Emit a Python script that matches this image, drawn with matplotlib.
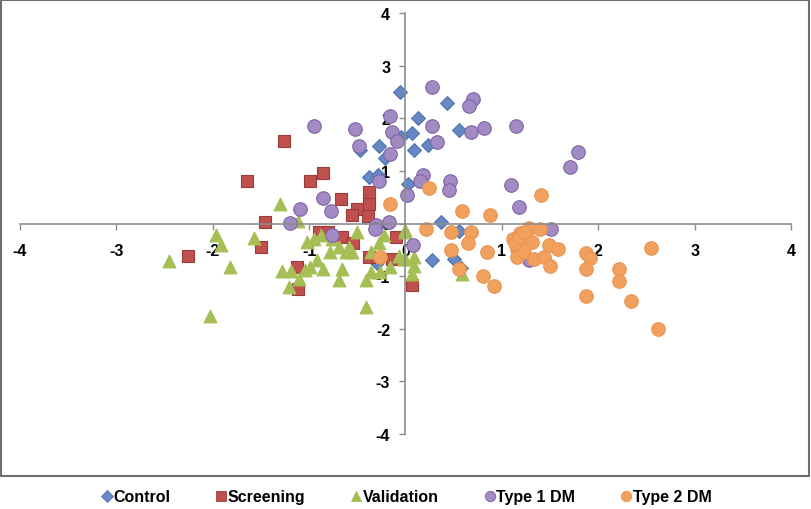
import matplotlib
matplotlib.use('Agg')
from matplotlib import pyplot as plt
from matplotlib.patches import Rectangle
from matplotlib.lines import Line2D

plt.rcParams['font.family'] = ['Liberation Sans', 'DejaVu Sans']
plt.rcParams['axes.unicode_minus'] = False

control_x = [-0.06, 0.43, 0.13, 0.07, -0.05, -0.28, -0.47, -0.21, -0.38, -0.29,
             0.03, 0.09, 0.23, 0.56, 0.37, 0.56, 0.27, 0.50, 0.58, -0.30]
control_y = [2.49, 2.29, 2.0, 1.72, 1.64, 1.48, 1.40, 1.24, 0.89, 0.92,
             0.75, 1.40, 1.49, 1.77, 0.02, -0.14, -0.70, -0.67, -0.85, -0.76]

screening_x = [-1.26, -1.64, -0.99, -0.86, -0.67, -0.38, -0.38, -0.50, -0.55, -0.39,
               -1.46, -2.26, -1.50, -1.13, -1.12, -0.90, -0.80, -0.66, -0.54, -0.38,
               -0.14, -0.10, 0.07]
screening_y = [1.57, 0.80, 0.81, 0.96, 0.46, 0.59, 0.38, 0.27, 0.16, 0.15,
               0.03, -0.61, -0.45, -0.83, -1.24, -0.16, -0.16, -0.25, -0.38, -0.64,
               -0.67, -0.25, -1.16]

validation_x = [-2.45, -1.97, -1.91, -1.82, -2.03, -1.57, -1.28, -1.21, -1.19, -1.11,
                -1.04, -0.99, -1.02, -0.95, -0.88, -0.92, -0.86, -0.78, -0.76, -0.69,
                -0.66, -0.69, -0.62, -0.59, -0.55, -0.50, -0.41, -0.41, -0.36, -0.36,
                -0.28, -0.26, -0.22, -0.16, -0.07, 0.0, -0.02, -1.30, -1.12, 0.0,
                0.0, 0.09, 0.09, 0.07, 0.59]
validation_y = [-0.72, -0.22, -0.41, -0.83, -1.76, -0.27, -0.91, -1.21, -0.91, -1.05,
                -0.89, -0.83, -0.35, -0.29, -0.22, -0.70, -0.86, -0.54, -0.29, -0.45,
                -0.86, -1.08, -0.54, -0.45, -0.54, -0.16, -1.59, -1.08, -0.54, -0.92,
                -0.38, -0.92, -0.22, -0.83, -0.61, -0.16, -0.67, 0.37, 0.05, -0.13,
                -0.67, -0.64, -0.80, -0.96, -0.96]

type1_x = [-0.95, -0.52, -0.48, -0.16, -0.14, -0.09, -0.16, -0.27, 0.02, -0.86,
           -1.09, -0.77, -1.20, -0.17, -0.31, -0.76, -0.32, 0.28, 0.70, 0.66,
           0.28, 0.33, 0.68, 0.81, 1.15, 1.79, 1.71, 0.18, 0.15, 0.46,
           0.45, 1.09, 1.18, 1.51, 1.28, 0.08]
type1_y = [1.86, 1.80, 1.47, 2.04, 1.73, 1.57, 1.32, 0.81, 0.54, 0.48,
           0.27, 0.24, 0.01, 0.03, -0.03, -0.22, -0.10, 2.60, 2.36, 2.23,
           1.85, 1.55, 1.73, 1.82, 1.85, 1.35, 1.07, 0.92, 0.81, 0.81,
           0.63, 0.73, 0.31, -0.10, -0.70, -0.40]

type2_x = [0.24, 1.41, 0.59, 0.88, -0.16, 0.21, 0.47, 0.68, 0.65, 0.47,
           0.85, 0.55, 0.80, 0.92, 1.12, 1.19, 1.28, 1.24, 1.31, 1.16,
           1.16, 1.23, 1.14, 1.18, 1.23, 1.40, 1.33, 1.44, 1.50, 1.49,
           1.58, 1.87, 1.91, 1.87, 2.22, 2.22, 1.87, 2.34, 2.55, 2.62,
           -0.26]
type2_y = [0.67, 0.54, 0.24, 0.16, 0.37, -0.11, -0.16, -0.16, -0.38, -0.51,
           -0.55, -0.87, -0.99, -1.18, -0.29, -0.19, -0.08, -0.35, -0.36, -0.48,
           -0.64, -0.54, -0.38, -0.25, -0.16, -0.11, -0.67, -0.64, -0.81, -0.40,
           -0.48, -0.57, -0.66, -0.87, -0.86, -1.10, -1.38, -1.47, -0.46, -2.01,
           -0.64]

labels = ['Control', 'Screening', 'Validation', 'Type 1 DM', 'Type 2 DM']
markers = ['D', 's', '^', 'o', 'o']
fills = ['#6688C4', '#C0504D', '#A6BF55', '#A28BC4', '#F2A05E']
edges = ['#4F73B0', '#9C3C3A', '#A6BF55', '#7E64A3', '#E99452']
sizes = [50, 75, 85, 95, 95]

fig = plt.figure(figsize=(8.12, 5.10), dpi=100)
ax = fig.add_axes([20 / 812, 75 / 510, 771 / 812, 421 / 510])

series = [(control_x, control_y), (screening_x, screening_y), (validation_x, validation_y),
          (type1_x, type1_y), (type2_x, type2_y)]
for (xs, ys), lab, m, fc, ec, s in zip(series, labels, markers, fills, edges, sizes):
    ax.scatter(xs, ys, marker=m, s=s, c=fc, edgecolors=ec, linewidths=0.8,
               label=lab, zorder=2)

ax.set_xlim(-4, 4)
ax.set_ylim(-4, 4)
ax.set_xticks(range(-4, 5))
ax.set_yticks(range(-4, 5))

for side in ['top', 'right']:
    ax.spines[side].set_visible(False)
ax.spines['left'].set_position(('data', 0))
ax.spines['bottom'].set_position(('data', 0))
for side in ['left', 'bottom']:
    ax.spines[side].set_color('#8C8C8C')
    ax.spines[side].set_linewidth(1.2)
ax.tick_params(axis='both', direction='out', length=4, width=1, color='#8C8C8C',
               labelsize=11.5)
ax.tick_params(axis='x', pad=10)
ax.tick_params(axis='y', pad=7)
for t in ax.get_xticklabels() + ax.get_yticklabels():
    t.set_fontweight('bold')

fig.patches.append(Rectangle((0.5 / 812, 33 / 510), 808.5 / 812, 476 / 510,
                             transform=fig.transFigure, fill=False,
                             edgecolor='#6E6E6E', linewidth=1.5))

handles = [Line2D([], [], linestyle='none', marker=m, markersize=ms, markerfacecolor=fc,
                  markeredgecolor=ec, markeredgewidth=0.6)
           for m, fc, ec, ms in zip(markers, fills, edges, [6, 7.5, 7.5, 7.5, 7.5])]
fig.legend(handles, labels, loc='center', bbox_to_anchor=(0.5, 12 / 510), ncol=5,
           frameon=False, prop={'weight': 'bold', 'size': 11.5},
           handletextpad=0.0, columnspacing=2.8, handlelength=0.8)

fig.savefig('out.png', dpi=100)
